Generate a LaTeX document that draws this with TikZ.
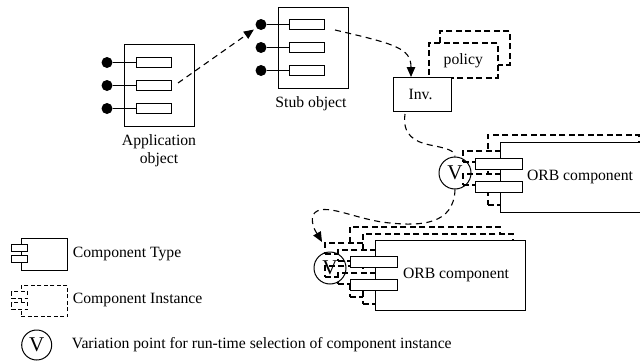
\documentclass[tikz,border=0pt]{standalone}
\usepackage{fontspec}
\setmainfont{Liberation Serif}
\usetikzlibrary{arrows.meta,calc}
\begin{document}
\begin{tikzpicture}[x=1pt,y=-1pt,
  every node/.style={inner sep=0pt, font=\fontsize{15.7}{18}\selectfont},
  solidbox/.style={draw, fill=white, line width=1pt, anchor=north west},
  instbox/.style={draw, fill=white, line width=1.6pt, dash pattern=on 6pt off 3.5pt, anchor=north west},
  portbox/.style={solidbox, minimum width=47pt, minimum height=11pt},
  instport/.style={instbox, minimum width=47pt, minimum height=11pt},
  objrect/.style={draw, fill=white, line width=1pt, minimum width=35pt, minimum height=10.5pt},
  dotport/.style={circle, fill=black, minimum size=11pt},
  vcirc/.style={circle, draw, line width=1pt, minimum size=32pt, font=\fontsize{21}{21}\selectfont},
  flow/.style={line width=1.1pt, dash pattern=on 6pt off 4.5pt, -{Triangle[length=10pt,width=8.5pt]}},
  flowline/.style={line width=1.1pt, dash pattern=on 6pt off 4.5pt},
  link/.style={line width=1pt}
]
\useasboundingbox (0,0) rectangle (640,364);
\clip (0,0) rectangle (640,364);

% ---------- Application object ----------
\node[solidbox, minimum width=70pt, minimum height=82pt] (app) at (124,44) {};
\node[objrect] (appr1) at (153.5,62.5) {};
\node[objrect] (appr2) at (153.5,85.5) {};
\node[objrect] (appr3) at (153.5,108.5) {};
\node[dotport] (appd1) at (107,62.5) {};
\node[dotport] (appd2) at (107,85.5) {};
\node[dotport] (appd3) at (107,108.5) {};
\draw[link] (appd1) -- (appr1);
\draw[link] (appd2) -- (appr2);
\draw[link] (appd3) -- (appr3);
\node[align=center] (applbl) at (159,151) {Application\\object};

% ---------- Stub object ----------
\node[solidbox, minimum width=70pt, minimum height=81pt] (stub) at (278,7) {};
\node[objrect] (stubr1) at (306.8,24.5) {};
\node[objrect] (stubr2) at (306.8,47.5) {};
\node[objrect] (stubr3) at (306.8,70.5) {};
\node[dotport] (stubd1) at (261,24.5) {};
\node[dotport] (stubd2) at (261,47.5) {};
\node[dotport] (stubd3) at (261,70.5) {};
\draw[link] (stubd1) -- (stubr1);
\draw[link] (stubd2) -- (stubr2);
\draw[link] (stubd3) -- (stubr3);
\node (stublbl) at (311,104) {Stub object};

% ---------- policy and Inv. ----------
\node[instbox, minimum width=70pt, minimum height=34pt] (polback) at (439,30) {};
\node[instbox, minimum width=69pt, minimum height=35pt] (pol) at (428,42) {};
\node (poltxt) at (pol.center) {policy};
\node[solidbox, minimum width=58pt, minimum height=34pt] (inv) at (393,77) {};
\node (invtxt) at ($(inv.center)+(-2,0)$) {Inv.};

% ---------- upper ORB component ----------
\node[instbox, minimum width=151pt, minimum height=70pt] (orbAi) at (487,134) {};
\node[instport] (orbAip1) at (462,150) {};
\node[instport] (orbAip2) at (462,173) {};
\node[solidbox, minimum width=151pt, minimum height=70pt] (orbA) at (500,142) {};
\node[portbox] (orbAp1) at (475,158) {};
\node[portbox] (orbAp2) at (475,181) {};
\node (orbAt) at (580,177) {ORB component};
\node[vcirc] (vA) at (455,173) {V};

% ---------- lower ORB component ----------
\node[instbox, minimum width=150pt, minimum height=70pt] (orbBi2) at (349,226) {};
\node[instport] (orbBi2p1) at (324,242) {};
\node[instport] (orbBi2p2) at (324,265) {};
\node[instbox, minimum width=150pt, minimum height=70pt] (orbBi1) at (362,233) {};
\node[instport] (orbBi1p1) at (337,249) {};
\node[instport] (orbBi1p2) at (337,272) {};
\node[solidbox, minimum width=150pt, minimum height=70pt] (orbB) at (375,240) {};
\node[portbox] (orbBp1) at (350,256) {};
\node[portbox] (orbBp2) at (350,279) {};
\node (orbBt) at (456,275) {ORB component};
\node[vcirc] (vB) at (330,268) {V};

% ---------- connectors ----------
\coordinate (appout) at (178,83);
\draw[flow, shorten >=3pt] (appout) -- (stubd1);

\coordinate (stubout) at (335,30);
\coordinate (invtop) at ($(inv.north west)+(18,0)$);
\draw[flow] (stubout) .. controls (395,44) and (411,48) .. (invtop);

\coordinate (invbot) at ($(inv.south west)+(12,2)$);
\draw[flowline] (invbot) .. controls (402,135) and (415,142) .. (430,145)
  .. controls (445,148) and (455,150) .. (vA.north);

\coordinate (vBin) at ($(orbBi2p1.north west)+(-2,0)$);
\draw[flow] (vA.south) .. controls (454,225) and (420,226) .. (390,223)
  .. controls (355,220) and (322,200) .. (313,215)
  .. controls (310,225) and (318,235) .. (vBin);

% ---------- legend ----------
\node[solidbox, minimum width=46.5pt, minimum height=32pt] (legT) at (20.7,238) {};
\node[solidbox, minimum width=16pt, minimum height=7pt] (legTp1) at (11,244) {};
\node[solidbox, minimum width=16pt, minimum height=7pt] (legTp2) at (11,255) {};
\node[anchor=west] (legTt) at (72.7,253.5) {Component Type};

\node[instbox, line width=1.2pt, dash pattern=on 4pt off 2.5pt, minimum width=46.5pt, minimum height=31pt] (legI) at (20.7,285) {};
\node[instbox, line width=1.2pt, dash pattern=on 4pt off 2.5pt, minimum width=16pt, minimum height=7pt] (legIp1) at (11,291) {};
\node[instbox, line width=1.2pt, dash pattern=on 4pt off 2.5pt, minimum width=16pt, minimum height=7pt] (legIp2) at (11,302) {};
\node[anchor=west] (legIt) at (72.7,299.5) {Component Instance};

\node[vcirc, minimum size=30pt] (legV) at (36.7,345) {V};
\node[anchor=west] (legVt) at (71.7,345) {Variation point for run-time selection of component instance};
\end{tikzpicture}
\end{document}
